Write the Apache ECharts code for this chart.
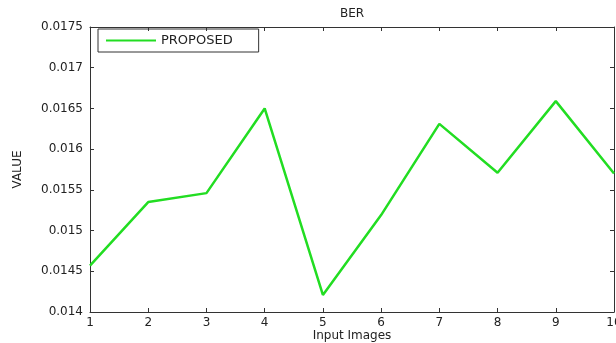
<!DOCTYPE html>
<html>
<head>
<meta charset="utf-8">
<script src="https://cdn.jsdelivr.net/npm/echarts@6/dist/echarts.min.js"></script>
<style>
  html, body { margin: 0; padding: 0; background: #fff; }
  #chart { width: 616px; height: 343px; }
</style>
</head>
<body>
<div id="chart"></div>
<script>
  const categories = ['1', '2', '3', '4', '5', '6', '7', '8', '9', '10']
  const proposed = [0.01457, 0.01535, 0.01546, 0.01650, 0.01421, 0.01519, 0.01631, 0.01571, 0.01659, 0.01570]
  const yTicks = { min: 0.014, max: 0.0175, step: 0.0005 }

  const font = 'DejaVu Sans'
  const axisColor = '#333'

  const chart = echarts.init(document.getElementById('chart'))

  const boxAxis = (extra) => Object.assign({
    axisLine: { show: true, lineStyle: { color: axisColor, width: 1 } },
    axisTick: { show: true, inside: true, length: 4, lineStyle: { color: axisColor } },
    splitLine: { show: false }
  }, extra)

  chart.setOption({
    animation: false,
    backgroundColor: '#fff',
    title: {
      text: 'BER',
      left: 340,
      top: 8,
      padding: 0,
      textStyle: { fontFamily: font, fontSize: 12, fontWeight: 'normal', color: '#222' }
    },
    legend: {
      data: ['PROPOSED'],
      left: 98,
      top: 29,
      padding: [5, 26, 5, 8],
      icon: 'rect',
      itemWidth: 50,
      itemHeight: 2,
      itemGap: 5,
      borderColor: axisColor,
      borderWidth: 1,
      textStyle: { fontFamily: font, fontSize: 13, color: '#222' }
    },
    grid: { left: 90, right: 2, top: 27, bottom: 31, outerBoundsMode: 'none' },
    xAxis: [
      boxAxis({
        type: 'category',
        data: categories,
        boundaryGap: false,
        name: 'Input Images',
        nameLocation: 'middle',
        nameGap: 18,
        nameMoveOverlap: false,
        nameTextStyle: { fontFamily: font, fontSize: 12, color: '#222' },
        axisLabel: { fontFamily: font, fontSize: 12, color: '#222', margin: 5 }
      }),
      boxAxis({
        type: 'category',
        data: categories,
        boundaryGap: false,
        position: 'top',
        axisLabel: { show: false }
      })
    ],
    yAxis: [
      boxAxis({
        type: 'value',
        min: yTicks.min,
        max: yTicks.max,
        interval: yTicks.step,
        name: 'VALUE',
        nameLocation: 'middle',
        nameGap: 66,
        nameMoveOverlap: false,
        nameTextStyle: { fontFamily: font, fontSize: 12, color: '#222' },
        axisLabel: {
          fontFamily: font, fontSize: 12, color: '#222', margin: 7,
          formatter: v => String(+v.toFixed(4))
        }
      }),
      boxAxis({
        type: 'value',
        position: 'right',
        min: yTicks.min,
        max: yTicks.max,
        interval: yTicks.step,
        axisLabel: { show: false }
      })
    ],
    series: [
      {
        name: 'PROPOSED',
        type: 'line',
        data: proposed,
        symbol: 'none',
        lineStyle: { color: '#22dd22', width: 2.5 },
        itemStyle: { color: '#22dd22' }
      }
    ]
  })
</script>
</body>
</html>
